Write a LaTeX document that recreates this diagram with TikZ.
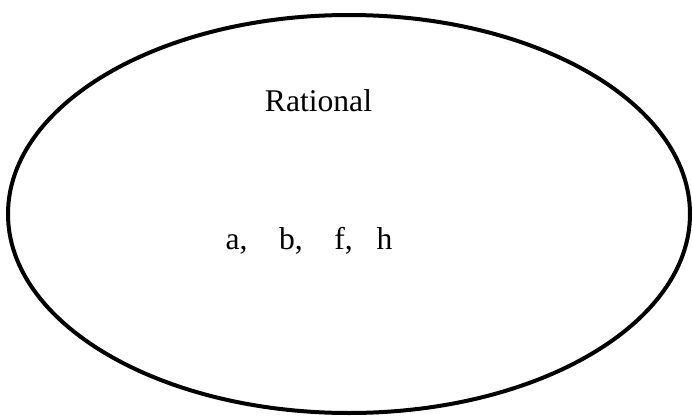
\documentclass[tikz,border=0pt]{standalone}
\usepackage{fontspec}
\setmainfont{Liberation Serif}
\usetikzlibrary{shapes.geometric}

\begin{document}
\begin{tikzpicture}[
  x=0.5pt, y=-0.5pt,
  set/.style={draw, ellipse, line width=2pt, minimum width=341pt, minimum height=199pt},
  lbl/.style={font=\fontsize{15.8}{19}\selectfont}
]
  \useasboundingbox (0,0) rectangle (693,418);
  % set
  \node[set] (rational) at (349,214) {};

  % labels
  \node[lbl] (name)    at (318.5,101) {Rational};
  \node[lbl] (members) at (309,241)   {a,\hspace{1em}b,\hspace{1em}f,\hspace{0.75em}h};
\end{tikzpicture}
\end{document}
